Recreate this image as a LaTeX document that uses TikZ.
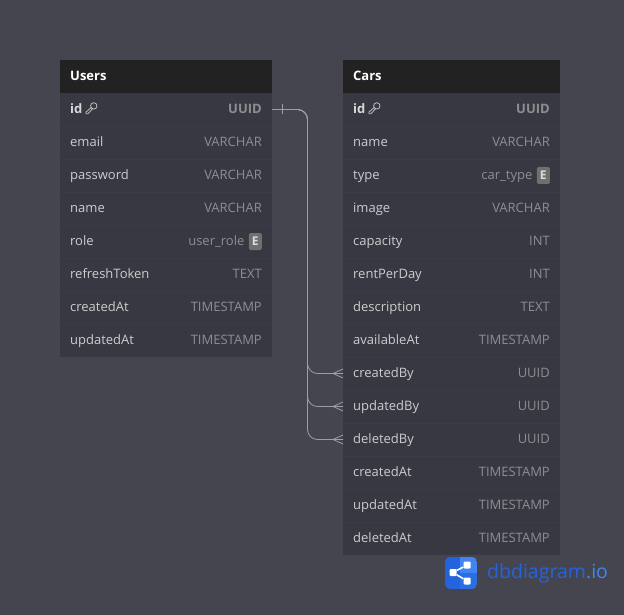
\documentclass[tikz,border=0pt]{standalone}
\usepackage{fontspec}
\setmainfont{Open Sans}
\usetikzlibrary{calc}
\definecolor{canvas}{HTML}{45454F}
\definecolor{headfill}{HTML}{222222}
\definecolor{rowfill}{HTML}{373841}
\definecolor{rowline}{HTML}{3B3C45}
\definecolor{nametext}{HTML}{CDCDCF}
\definecolor{typetext}{HTML}{8E8E92}
\definecolor{relcolor}{HTML}{9C9CAA}
\definecolor{logodark}{HTML}{2563DC}
\definecolor{logomid}{HTML}{2D6DE4}
\definecolor{logolight}{HTML}{3F86F4}
\tikzstyle{tablehead}=[anchor=north west,fill=headfill,minimum height=33pt,inner sep=0pt,outer sep=0pt]
\tikzstyle{tablerow}=[fill=rowfill,minimum height=33pt,inner sep=0pt,outer sep=0pt]
\tikzstyle{fieldtext}=[inner sep=0pt,text height=11pt,text depth=3pt,font=\fontsize{13}{15}\selectfont]
\tikzstyle{headname}=[fieldtext,anchor=west,xshift=10pt,text=white,font=\fontsize{13}{15}\selectfont\bfseries]
\tikzstyle{fieldname}=[fieldtext,anchor=west,xshift=10pt,text=nametext]
\tikzstyle{keyname}=[fieldname,text=nametext!80!white,font=\fontsize{13}{15}\selectfont\bfseries]
\tikzstyle{fieldtype}=[fieldtext,anchor=east,xshift=-10pt,text=typetext]
\tikzstyle{keytype}=[fieldtype,font=\fontsize{13}{15}\selectfont\bfseries]
\tikzstyle{enumtag}=[anchor=east,xshift=-10pt,fill=typetext!78!black,rounded corners=1.5pt,minimum width=13pt,minimum height=17pt,inner sep=0pt,text=nametext!70!white,font=\fontsize{12}{14}\selectfont\bfseries]
\tikzstyle{relline}=[draw=relcolor,line width=0.8pt]
\tikzstyle{logobit}=[fill=white,rounded corners=1pt,minimum size=7pt,inner sep=0pt]
\tikzset{keyicon/.pic={
	\draw[nametext,line width=0.7pt] (2.8,-2.6) circle (3.2pt);
	\draw[nametext,line width=0.7pt,line join=round] (0.6,-1.4) -- (-5,3.6) -- (-5,5.4) -- (-3.2,5.4) -- (1.6,0.2);
}}

\begin{document}
\begin{tikzpicture}[x=1pt,y=-1pt,node distance=33pt]
	\useasboundingbox[fill=canvas] (0,0) rectangle (624,615);

	\node[tablehead,minimum width=212pt] (users) at (60,60) {};
	\node[headname] (users-title) at (users.west) {Users};
	\node[tablerow,minimum width=212pt,below of=users] (users-1) {};
	\node[keyname] (users-1-name) at (users-1.west) {id};
	\node[keytype] (users-1-type) at (users-1.east) {UUID};
	\foreach \field/\kind [count=\i from 2,remember=\i as \last (initially 1)] in {email/VARCHAR,password/VARCHAR,name/VARCHAR,role/,refreshToken/TEXT,createdAt/TIMESTAMP,updatedAt/TIMESTAMP} {
		\node[tablerow,minimum width=212pt,below of=users-\last] (users-\i) {};
		\draw[rowline] (users-\last.south west) -- (users-\last.south east);
		\node[fieldname] (users-\i-name) at (users-\i.west) {\field};
		\node[fieldtype] (users-\i-type) at (users-\i.east) {\kind};
	}
	\node[enumtag] (users-badge) at (users-5.east) {E};
	\node[fieldtext,anchor=east,xshift=-4pt,text=typetext] (users-5-kind) at (users-badge.west) {user\_role};
	\pic at (91,108.5) {keyicon};

	\node[tablehead,minimum width=217pt] (cars) at (343,60) {};
	\node[headname] (cars-title) at (cars.west) {Cars};
	\node[tablerow,minimum width=217pt,below of=cars] (cars-1) {};
	\node[keyname] (cars-1-name) at (cars-1.west) {id};
	\node[keytype] (cars-1-type) at (cars-1.east) {UUID};
	\foreach \field/\kind [count=\i from 2,remember=\i as \last (initially 1)] in {name/VARCHAR,type/,image/VARCHAR,capacity/INT,rentPerDay/INT,description/TEXT,availableAt/TIMESTAMP,createdBy/UUID,updatedBy/UUID,deletedBy/UUID,createdAt/TIMESTAMP,updatedAt/TIMESTAMP,deletedAt/TIMESTAMP} {
		\node[tablerow,minimum width=217pt,below of=cars-\last] (cars-\i) {};
		\draw[rowline] (cars-\last.south west) -- (cars-\last.south east);
		\node[fieldname] (cars-\i-name) at (cars-\i.west) {\field};
		\node[fieldtype] (cars-\i-type) at (cars-\i.east) {\kind};
	}
	\node[enumtag] (cars-badge) at (cars-3.east) {E};
	\node[fieldtext,anchor=east,xshift=-4pt,text=typetext] (cars-3-kind) at (cars-badge.west) {car\_type};
	\pic at (374,108.5) {keyicon};

	\foreach \target in {9,10,11} {
		\coordinate (bus-\target) at ($(users-1.east)!0.5!(cars-\target.west)$);
		\draw[relline,rounded corners=10pt] (users-1.east) -| (bus-\target) |- (cars-\target.west);
		\draw[relline] (cars-\target.west) ++(0,-4.5) -- ++(-10,4.5) -- ++(10,4.5);
	}
	\draw[relline] ($(users-1.east)+(10,-5)$) -- ++(0,10);

	\begin{scope}
		\clip[rounded corners=5pt] (445,557) rectangle (477,589);
		\fill[logodark] (445,557) rectangle (477,589);
		\fill[logolight] (460,557) rectangle (477,573);
		\fill[logomid] (460,573) rectangle (477,589);
	\end{scope}
	\node[logobit] (share-left) at (453,572.5) {};
	\node[logobit] (share-top) at (467,565) {};
	\node[logobit] (share-bottom) at (467,581) {};
	\draw[white,line width=1.6pt] (share-top) -- (share-left) -- (share-bottom);
	\node[anchor=west,inner sep=0pt,font=\fontsize{19.5}{24}\selectfont] (logo-text) at (487,573) {\textcolor{logodark}{dbdiagram}\textcolor{logolight}{.io}};
\end{tikzpicture}
\end{document}
